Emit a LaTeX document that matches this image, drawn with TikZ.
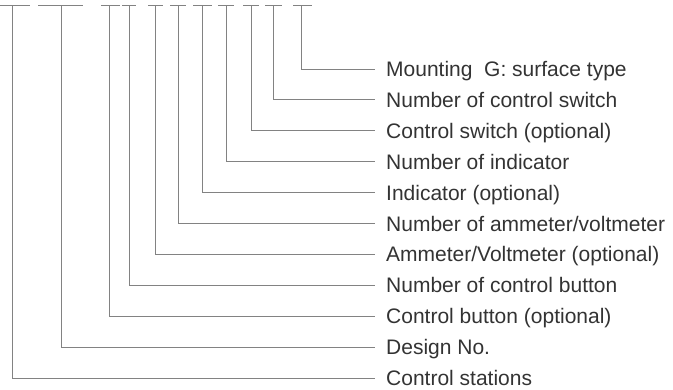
\documentclass[tikz,border=0pt]{standalone}
\usepackage{fontspec}
\setmainfont{Liberation Sans}
\usepackage{xcolor}
\usepackage{tikz}
\usetikzlibrary{positioning}
\definecolor{codegray}{RGB}{130,130,130}
\definecolor{labelgray}{RGB}{51,51,51}

\begin{document}
\begin{tikzpicture}[
    x=1pt, y=-1pt,
    node distance=30.9pt,
    lead/.style={draw=codegray, line width=0.9pt},
    tag/.style={anchor=west, inner xsep=11pt, inner ysep=0pt, text height=15pt, text depth=0pt, text=labelgray, font=\fontsize{21}{25}\selectfont}
]
    \useasboundingbox (0,0) rectangle (673,389);

    % Code positions
    \coordinate (stations) at (12,5);
    \coordinate (design) at (61,5);
    \coordinate (button) at (109,5);
    \coordinate (nbutton) at (129,5);
    \coordinate (meter) at (155,5);
    \coordinate (nmeter) at (178,5);
    \coordinate (ind) at (202,5);
    \coordinate (nind) at (226,5);
    \coordinate (switch) at (251,5);
    \coordinate (nswitch) at (273,5);
    \coordinate (mount) at (301,5);

    % Labels
    \node (lmount) [tag] at (375,69) {Mounting\ \ G: surface type};
    \node (lnswitch) [tag, below=of lmount.west, anchor=west] {Number of control switch};
    \node (lswitch) [tag, below=of lnswitch.west, anchor=west] {Control switch (optional)};
    \node (lnind) [tag, below=of lswitch.west, anchor=west] {Number of indicator};
    \node (lind) [tag, below=of lnind.west, anchor=west] {Indicator (optional)};
    \node (lnmeter) [tag, below=of lind.west, anchor=west] {Number of ammeter/voltmeter};
    \node (lmeter) [tag, below=of lnmeter.west, anchor=west] {Ammeter/Voltmeter (optional)};
    \node (lnbutton) [tag, below=of lmeter.west, anchor=west] {Number of control button};
    \node (lbutton) [tag, below=of lnbutton.west, anchor=west] {Control button (optional)};
    \node (ldesign) [tag, below=of lbutton.west, anchor=west] {Design No.};
    \node (lstations) [tag, below=of ldesign.west, anchor=west] {Control stations};

    % Code bars
    \draw [lead] ([xshift=-12pt]stations) -- ([xshift=18pt]stations);
    \draw [lead] ([xshift=-23pt]design) -- ([xshift=22pt]design);
    \draw [lead] ([xshift=-8pt]button) -- ([xshift=11pt]button);
    \draw [lead] ([xshift=-7pt]nbutton) -- ([xshift=7pt]nbutton);
    \draw [lead] ([xshift=-7pt]meter) -- ([xshift=8pt]meter);
    \draw [lead] ([xshift=-8pt]nmeter) -- ([xshift=8pt]nmeter);
    \draw [lead] ([xshift=-9pt]ind) -- ([xshift=10pt]ind);
    \draw [lead] ([xshift=-8pt]nind) -- ([xshift=8pt]nind);
    \draw [lead] ([xshift=-8pt]switch) -- ([xshift=8pt]switch);
    \draw [lead] ([xshift=-8pt]nswitch) -- ([xshift=9pt]nswitch);
    \draw [lead] ([xshift=-8pt]mount) -- ([xshift=11pt]mount);

    % Leaders
    \draw [lead] (mount) |- (lmount.west);
    \draw [lead] (nswitch) |- (lnswitch.west);
    \draw [lead] (switch) |- (lswitch.west);
    \draw [lead] (nind) |- (lnind.west);
    \draw [lead] (ind) |- (lind.west);
    \draw [lead] (nmeter) |- (lnmeter.west);
    \draw [lead] (meter) |- (lmeter.west);
    \draw [lead] (nbutton) |- (lnbutton.west);
    \draw [lead] (button) |- (lbutton.west);
    \draw [lead] (design) |- (ldesign.west);
    \draw [lead] (stations) |- (lstations.west);
\end{tikzpicture}
\end{document}
